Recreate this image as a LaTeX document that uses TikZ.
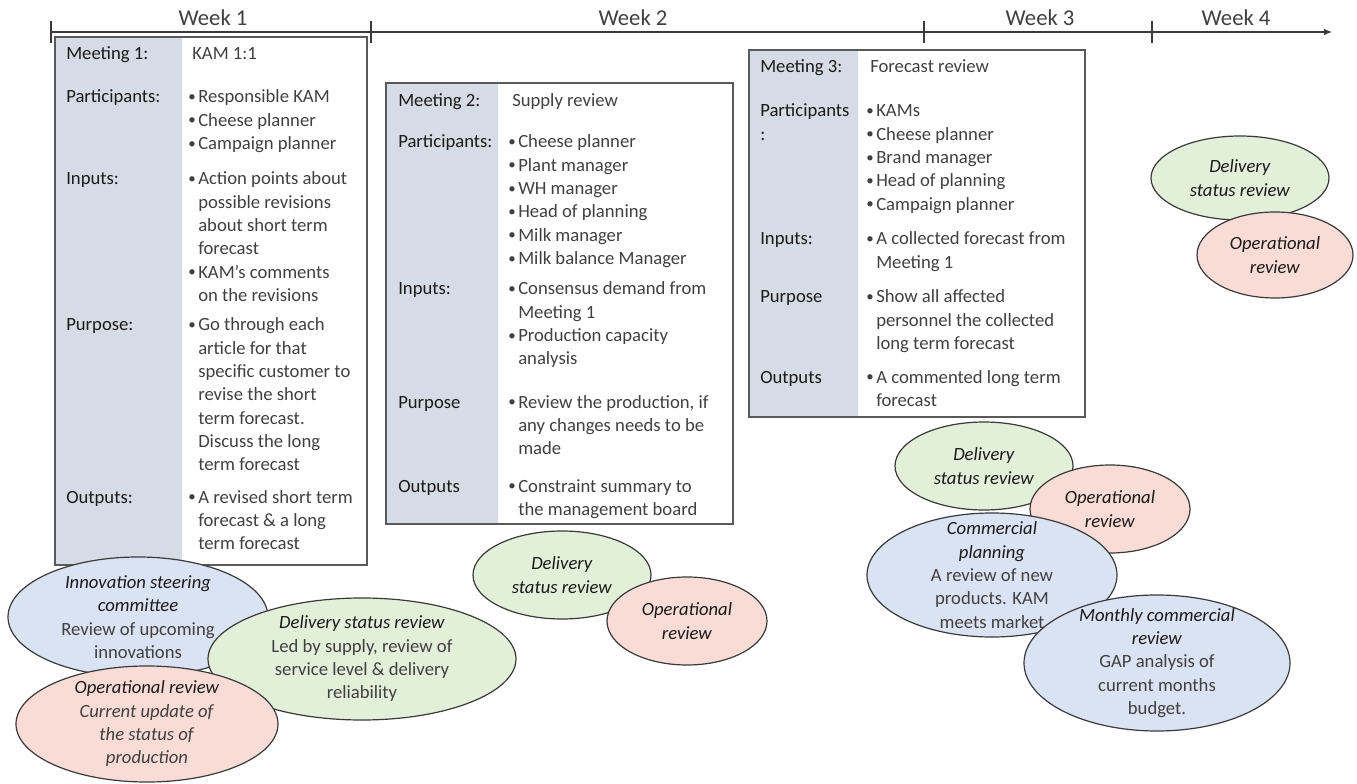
\documentclass[tikz,border=0pt]{standalone}
\usepackage{fontspec}
\setmainfont{Carlito}
\usepackage{graphicx}
\usetikzlibrary{shapes.geometric,arrows.meta}

\definecolor{colgray}{HTML}{D6DCE5}
\definecolor{boxline}{HTML}{595959}
\definecolor{edgecol}{HTML}{3A3A3A}
\definecolor{bodytext}{HTML}{404040}
\definecolor{labtext}{HTML}{1A1A1A}
\definecolor{fillblue}{HTML}{DAE3F3}
\definecolor{fillgreen}{HTML}{E2EFD9}
\definecolor{fillpink}{HTML}{FADCD6}

\newcommand{\bodyfont}{\fontsize{14}{17.5}\selectfont}
\newcommand{\weekfont}{\fontsize{17}{20}\selectfont}
\newcommand{\bu}{\makebox[7.5pt][l]{\raisebox{0.08em}{\scalebox{0.8}{\textbullet}}}}
\newcommand{\lst}[1]{\begin{tabular}[t]{@{}l@{}l@{}}#1\end{tabular}}

\tikzset{
  lab/.style={anchor=base west, inner sep=0pt, font=\bodyfont, text=labtext},
  txt/.style={anchor=base west, inner sep=0pt, font=\bodyfont, text=bodytext},
  weeklab/.style={anchor=base, inner sep=0pt, font=\weekfont, text=bodytext},
  axisline/.style={draw=edgecol, line width=0.9pt},
  tickline/.style={draw=edgecol, line width=0.8pt},
  boxframe/.style={draw=boxline, line width=1.1pt},
  bubble/.style={ellipse, draw=edgecol, line width=0.9pt, inner sep=0pt},
  bblue/.style={bubble, fill=fillblue},
  bgreen/.style={bubble, fill=fillgreen},
  bpink/.style={bubble, fill=fillpink},
  btext/.style={align=center, inner sep=0pt, font=\bodyfont, text=bodytext},
}

\begin{document}
\begin{tikzpicture}[x=0.75pt, y=-0.75pt]
\useasboundingbox (0,0) rectangle (1357,784);

% ---- timeline ----
\coordinate (t0) at (51,32);
\coordinate (tend) at (1332,32);
\draw[axisline, -{Latex[length=6pt,width=5pt]}] (t0) -- (tend);
\foreach \tx/\tn in {51/a,371/b,924/c,1152/d}{
  \coordinate (tick\tn top) at (\tx,21);
  \coordinate (tick\tn bot) at (\tx,43);
  \draw[tickline] (tick\tn top) -- (tick\tn bot);
}
\node[weeklab] (w1) at (213,26) {Week 1};
\node[weeklab] (w2) at (633,26) {Week 2};
\node[weeklab] (w3) at (1040,26) {Week 3};
\node[weeklab] (w4) at (1236,26) {Week 4};

% ---- meeting 1 ----
\fill[colgray] (55,37) rectangle (182,565);
\draw[boxframe] (55,37) rectangle (367,565);
\node[lab] (m1a) at (66,60) {Meeting 1:};
\node[txt] (m1b) at (192,60) {KAM 1:1};
\node[lab] (m1c) at (66,103) {Participants:};
\node[txt] (m1d) at (188,103) {\lst{\bu&Responsible KAM\\ \bu&Cheese planner\\ \bu&Campaign planner}};
\node[lab] (m1e) at (66,185) {Inputs:};
\node[txt] (m1f) at (188,185) {\lst{\bu&Action points about\\ &possible revisions\\ &about short term\\ &forecast\\ \bu&KAM's comments\\ &on the revisions}};
\node[lab] (m1g) at (66,331) {Purpose:};
\node[txt] (m1h) at (188,331) {\lst{\bu&Go through each\\ &article for that\\ &specific customer to\\ &revise the short\\ &term forecast.\\ &Discuss the long\\ &term forecast}};
\node[lab] (m1i) at (66,503) {Outputs:};
\node[txt] (m1j) at (188,503) {\lst{\bu&A revised short term\\ &forecast \& a long\\ &term forecast}};

% ---- meeting 2 ----
\fill[colgray] (386,83) rectangle (498,524);
\draw[boxframe] (386,83) rectangle (733,524);
\node[lab] (m2a) at (398,107) {Meeting 2:};
\node[txt] (m2b) at (512,107) {Supply review};
\node[lab] (m2c) at (398,148) {Participants:};
\node[txt] (m2d) at (508,148) {\lst{\bu&Cheese planner\\ \bu&Plant manager\\ \bu&WH manager\\ \bu&Head of planning\\ \bu&Milk manager\\ \bu&Milk balance Manager}};
\node[lab] (m2e) at (398,295) {Inputs:};
\node[txt] (m2f) at (508,295) {\lst{\bu&Consensus demand from\\ &Meeting 1\\ \bu&Production capacity\\ &analysis}};
\node[lab] (m2g) at (398,408) {Purpose};
\node[txt] (m2h) at (508,408) {\lst{\bu&Review the production, if\\ &any changes needs to be\\ &made}};
\node[lab] (m2i) at (398,492) {Outputs};
\node[txt] (m2j) at (508,492) {\lst{\bu&Constraint summary to\\ &the management board}};

% ---- meeting 3 ----
\fill[colgray] (749,50) rectangle (858,417);
\draw[boxframe] (749,50) rectangle (1085,417);
\node[lab] (m3a) at (760,73) {Meeting 3:};
\node[txt] (m3b) at (870,73) {Forecast review};
\node[lab] (m3c) at (760,117) {\lst{Participants\\ :}};
\node[txt] (m3d) at (866,117) {\lst{\bu&KAMs\\ \bu&Cheese planner\\ \bu&Brand manager\\ \bu&Head of planning\\ \bu&Campaign planner}};
\node[lab] (m3e) at (760,245) {Inputs:};
\node[txt] (m3f) at (866,245) {\lst{\bu&A collected forecast from\\ &Meeting 1}};
\node[lab] (m3g) at (760,303) {Purpose};
\node[txt] (m3h) at (866,303) {\lst{\bu&Show all affected\\ &personnel the collected\\ &long term forecast}};
\node[lab] (m3i) at (760,383) {Outputs};
\node[txt] (m3j) at (866,383) {\lst{\bu&A commented long term\\ &forecast}};

% ---- week 1 review meetings ----
\node[bblue, minimum width=195pt, minimum height=90pt] (innov) at (138,617) {};
\node[btext] (innovt) at (innov.center) {\textcolor{labtext}{\textit{Innovation steering}}\\ \textcolor{labtext}{\textit{committee}}\\ Review of upcoming\\ innovations};
\node[bgreen, minimum width=231pt, minimum height=91.5pt] (deliv1) at (362,659) {};
\node[btext] (deliv1t) at (deliv1.center) {\textcolor{labtext}{\textit{Delivery status review}}\\ Led by supply, review of\\ service level \& delivery\\ reliability};
\node[bpink, minimum width=196.5pt, minimum height=87pt] (oper1) at (147,724) {};
\node[btext] (oper1t) at (oper1.center) {\textcolor{labtext}{\textit{Operational review}}\\ \textit{Current update of}\\ \textit{the status of}\\ \textit{production}};

% ---- week 2 review meetings ----
\node[bgreen, minimum width=133.5pt, minimum height=66pt] (deliv2) at (562,575) {};
\node[btext, text=labtext] (deliv2t) at (deliv2.center) {\textit{Delivery}\\ \textit{status review}};
\node[bpink, minimum width=120pt, minimum height=66pt] (oper2) at (687,621) {};
\node[btext, text=labtext] (oper2t) at (oper2.center) {\textit{Operational}\\ \textit{review}};

% ---- week 3 review meetings ----
\node[bgreen, minimum width=133.5pt, minimum height=66pt] (deliv3) at (984,466) {};
\node[btext, text=labtext] (deliv3t) at (deliv3.center) {\textit{Delivery}\\ \textit{status review}};
\node[bpink, minimum width=120pt, minimum height=66pt] (oper3) at (1110,509) {};
\node[btext, text=labtext] (oper3t) at (oper3.center) {\textit{Operational}\\ \textit{review}};
\node[bblue, minimum width=187.5pt, minimum height=93pt] (comm) at (992,575) {};
\node[btext] (commt) at (comm.center) {\textcolor{labtext}{\textit{Commercial}}\\ \textcolor{labtext}{\textit{planning}}\\ A review of new\\ products. KAM\\ meets market};
\node[bblue, minimum width=199.5pt, minimum height=102pt] (month) at (1157,663) {};
\node[btext] (montht) at (month.center) {\textcolor{labtext}{\textit{Monthly commercial}}\\ \textcolor{labtext}{\textit{review}}\\ GAP analysis of\\ current months\\ budget.};

% ---- week 4 review meetings ----
\node[bgreen, minimum width=133.5pt, minimum height=63pt] (deliv4) at (1240,178) {};
\node[btext, text=labtext] (deliv4t) at (deliv4.center) {\textit{Delivery}\\ \textit{status review}};
\node[bpink, minimum width=117pt, minimum height=64.5pt] (oper4) at (1275,255) {};
\node[btext, text=labtext] (oper4t) at (oper4.center) {\textit{Operational}\\ \textit{review}};
\end{tikzpicture}
\end{document}
